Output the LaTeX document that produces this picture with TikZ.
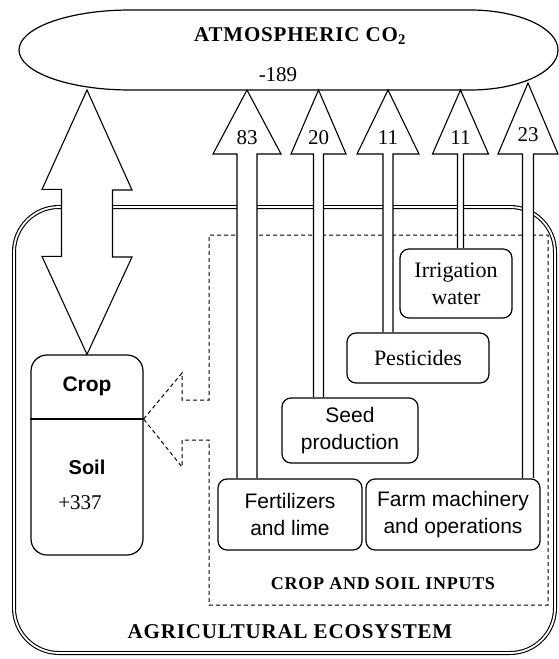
\documentclass[tikz,border=0pt]{standalone}
\usepackage{fontspec}
\setmainfont{Liberation Serif}
\setsansfont{Liberation Sans}

\tikzset{
	inbox/.style={draw,line width=1.2pt,rounded corners=9pt,align=center,inner sep=0pt},
	fatarrow/.style={draw,line width=1.1pt,fill=white,line join=miter},
	num/.style={font=\fontsize{21}{24}\selectfont},
	boxtxt/.style={font=\sffamily\fontsize{21}{27}\selectfont},
	sertxt/.style={font=\fontsize{22}{27}\selectfont},
	title/.style={font=\bfseries\addfontfeatures{LetterSpace=4}},
}

\begin{document}
\begin{tikzpicture}[x=1pt,y=-1pt]
	\useasboundingbox (0,0) rectangle (559,659);

	%ECOSYSTEM
	\draw[double,double distance=1.8pt,line width=1.1pt,rounded corners=45pt] (14,207) rectangle (555,653);
	\node[title] (eco) at (290,632) {\fontsize{21}{24}\selectfont AGRICULTURAL ECOSYSTEM};

	%ATMOSPHERE
	\draw[line width=1.2pt] (130,10) -- (470,10) arc[start angle=-90,end angle=90,x radius=88,y radius=40]
		-- (130,90) arc[start angle=90,end angle=270,x radius=111,y radius=40] -- cycle;
	\node[title] (atm) at (300,36) {\fontsize{21}{24}\selectfont ATMOSPHERIC CO\textsubscript{2}};
	\node[num] (net) at (278,75) {-189};

	%CROP AND SOIL
	\node[inbox,rounded corners=16pt,minimum width=112pt,minimum height=200pt] (plant) at (87,455) {};
	\coordinate (dv) at ([yshift=36pt]plant.east);
	\draw[line width=1.2pt] (dv) -- (dv -| plant.west);
	\node[font=\sffamily\bfseries\fontsize{21}{24}\selectfont] (crop) at (87,386) {Crop};
	\node[font=\sffamily\bfseries\fontsize{20}{24}\selectfont] (soil) at (87,467) {Soil};
	\node[num] (gain) at (80,503) {+337};

	%EXCHANGE ARROW
	\coordinate (dtip) at (87,90);
	\draw[fatarrow] (dtip) -- ++(45,100) -- ++(-19.5,0) -- ++(0,67) -- ++(19.5,0) -- (plant.north)
		-- ++(-45,-98) -- ++(19.5,0) -- ++(0,-67) -- ++(-19.5,0) -- cycle;

	%INPUTS
	\draw[dash pattern=on 4pt off 3pt,line width=1pt] (dv) -- (182,373) -- (182,400) -- (209,400) -- (209,235)
		-- (548,235) -- (548,605) -- (209,605) -- (209,440) -- (182,440) -- (182,467) -- cycle;
	\node[title] (inputs) at (383,584) {\fontsize{18}{22}\selectfont CROP AND SOIL INPUTS};

	\node[inbox,boxtxt,minimum width=144pt,minimum height=71pt] (fert) at (290,514.5) {Fertilizers\\and lime};
	\node[inbox,boxtxt,minimum width=174pt,minimum height=71pt] (farm) at (453,514.5) {Farm machinery\\and operations};
	\node[inbox,boxtxt,minimum width=136pt,minimum height=65pt] (seed) at (350,430.5) {Seed\\production};
	\node[inbox,sertxt,minimum width=142pt,minimum height=50pt] (pest) at (418,358) {Pesticides};
	\node[inbox,sertxt,minimum width=112pt,minimum height=69pt] (irr) at (456,283.5) {Irrigation\\water};

	%EMISSIONS
	\foreach \xc/\sw/\hw/\ty/\ly/\lab/\src in {247/10/34/90/138/83/fert, 318.5/5/27.5/90/138/20/seed,
		388/5/31/90/138/11/pest, 460.5/3/28/90/138/11/irr, 528/5.5/30/83/135/23/farm}{
		\coordinate (tip) at (\xc,\ty);
		\coordinate (hb) at (\xc,154);
		\coordinate (sb) at ([yshift=0.6pt]\src.north);
		\draw[fatarrow] ([xshift=-\sw pt]hb |- sb) -- ([xshift=-\sw pt]hb) -- ([xshift=-\hw pt]hb) -- (tip)
			-- ([xshift=\hw pt]hb) -- ([xshift=\sw pt]hb) -- ([xshift=\sw pt]hb |- sb);
		\node[num] (v\src) at (\xc,\ly) {\lab};
	}
\end{tikzpicture}
\end{document}
